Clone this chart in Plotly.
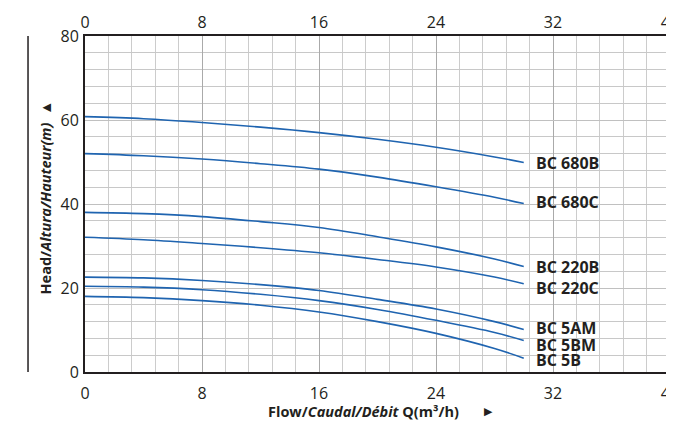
import plotly.graph_objects as go

# ---- data ----
flow = [0, 4, 8, 12, 16, 20, 24, 28, 30]
series_names = ["BC 680B", "BC 680C", "BC 220B", "BC 220C", "BC 5AM", "BC 5BM", "BC 5B"]
bc680b = [60.8, 60.3, 59.4, 58.3, 57.0, 55.4, 53.5, 51.2, 49.9]
bc680c = [52.0, 51.5, 50.7, 49.6, 48.3, 46.4, 44.1, 41.6, 40.1]
bc220b = [38.0, 37.7, 37.0, 35.8, 34.4, 32.2, 29.8, 26.9, 25.1]
bc220c = [32.1, 31.5, 30.6, 29.6, 28.4, 26.8, 25.0, 22.6, 21.0]
bc5am = [22.6, 22.4, 21.8, 20.8, 19.4, 17.3, 15.0, 12.0, 10.1]
bc5bm = [20.4, 20.2, 19.6, 18.5, 17.0, 14.9, 12.3, 9.4, 7.5]
bc5b = [18.0, 17.7, 17.0, 15.9, 14.3, 12.0, 9.2, 5.6, 3.3]
series_values = [bc680b, bc680c, bc220b, bc220c, bc5am, bc5bm, bc5b]
x_ticks = [0, 8, 16, 24, 32, 40]
y_ticks = [0, 20, 40, 60, 80]

label_yshift = [-1, 2, 0, -4, 2, -4, -2]

FONT = "Open Sans"
TXT = "#231f20"
LINE = "#1f64b0"

fig = go.Figure()
for name, vals in zip(series_names, series_values):
    fig.add_trace(go.Scatter(x=flow, y=vals, mode="lines", name=name,
                             line=dict(color=LINE, width=1.6, shape="spline"),
                             showlegend=False, hoverinfo="skip"))
# invisible trace to anchor top axis
fig.add_trace(go.Scatter(x=[0, 40], y=[0, 0], xaxis="x2", mode="markers",
                         marker=dict(opacity=0), showlegend=False, hoverinfo="skip"))

for name, vals, ys in zip(series_names, series_values, label_yshift):
    fig.add_annotation(x=flow[-1], y=vals[-1], xref="x", yref="y", text="<b>" + name + "</b>",
                       showarrow=False, xanchor="left", yanchor="middle", xshift=10, yshift=ys,
                       font=dict(family=FONT, size=16, color=TXT))

fig.update_layout(
    width=666, height=417,
    margin=dict(l=77, r=4, t=28, b=53),
    paper_bgcolor="white", plot_bgcolor="white",
    xaxis=dict(range=[0, 40], tickvals=x_ticks, showgrid=True, gridcolor="#aaaaaa", gridwidth=1.3,
               minor=dict(dtick=1.6, tick0=0, showgrid=True, gridcolor="#cccccc", gridwidth=1.3),
               showline=True, linecolor=TXT, linewidth=1.8, mirror=True,
               ticks="outside", ticklen=6, tickcolor="rgba(0,0,0,0)", ticklabeloverflow="allow",
               tickfont=dict(family=FONT, size=16, color=TXT), zeroline=False, automargin=False),
    xaxis2=dict(range=[0, 40], tickvals=x_ticks, overlaying="x", side="top", showgrid=False,
                ticks="outside", ticklen=1, tickcolor="rgba(0,0,0,0)", ticklabeloverflow="allow",
                tickfont=dict(family=FONT, size=16, color=TXT), zeroline=False, automargin=False),
    yaxis=dict(range=[0, 80], tickvals=y_ticks, showgrid=True, gridcolor="#c0c0c0", gridwidth=1.3,
               minor=dict(dtick=4, tick0=0, showgrid=True, gridcolor="#c8c8c8", gridwidth=1.3),
               showline=True, linecolor=TXT, linewidth=1.8, mirror=True,
               ticks="outside", ticklen=1, tickcolor="rgba(0,0,0,0)",
               tickfont=dict(family=FONT, size=16, color=TXT), zeroline=False, automargin=False),
)

# y title (rotated) with arrow
fig.add_annotation(xref="paper", yref="paper", x=-0.068, y=0.52, xanchor="center", yanchor="middle",
                   text="<b>Head/<i>Altura/Hauteur(m)</i></b>  ▲", textangle=-90, showarrow=False,
                   font=dict(family=FONT, size=14.5, color=TXT))
# x title
fig.add_annotation(xref="paper", yref="paper", x=0.476, y=-0.119, xanchor="center", yanchor="middle",
                   text="<b>Flow/<i>Caudal/Débit</i> Q(m³/h)</b>", showarrow=False,
                   font=dict(family=FONT, size=14.5, color=TXT))
fig.add_annotation(xref="paper", yref="paper", x=0.689, y=-0.116, xanchor="center", yanchor="middle",
                   text="▶", showarrow=False, font=dict(family=FONT, size=11, color=TXT))
# vertical rule left of y title
fig.add_shape(type="line", xref="paper", yref="paper", x0=-0.0974, x1=-0.0974, y0=0, y1=1,
              line=dict(color=TXT, width=1.5))

fig.write_html("out.html")
